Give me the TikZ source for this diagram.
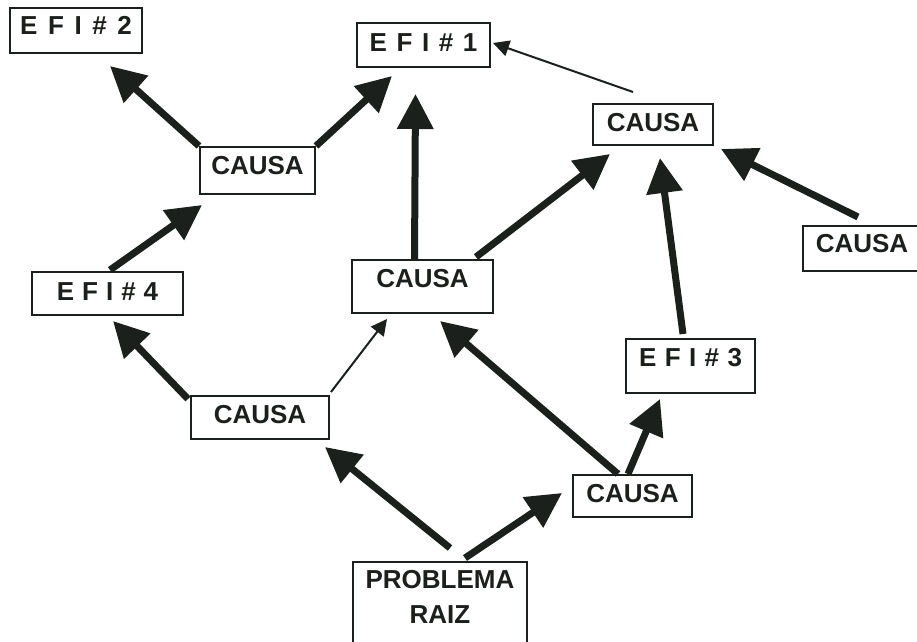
\documentclass[tikz,border=0pt]{standalone}
\usepackage{fontspec}
\setmainfont{Liberation Sans}
\usetikzlibrary{arrows.meta,calc}
\definecolor{ink}{RGB}{28,32,28}
% spaced-out "EFI #n" label; #1 = gap between characters, #2 = number
\newcommand\efilabel[2]{E\hspace{#1}F\hspace{#1}I\hspace{#1}\#\hspace{#1}#2}

\begin{document}
\begin{tikzpicture}[x=0.5pt,y=-0.5pt,
  labelfont/.style={font=\bfseries\fontsize{13pt}{17.5pt}\selectfont, text=ink},
  boxnode/.style={labelfont, draw=ink, line width=1pt, inner xsep=0pt, inner ysep=0pt, anchor=base},
  bigarrow/.style={draw=ink, line width=3.5pt, -{Triangle[length=17.5pt,width=17.5pt]}},
  thinarrow/.style={draw=ink, line width=1pt, -{Triangle[length=8pt,width=8pt]}},
]
\useasboundingbox[fill=white] (0,0) rectangle (917,642);

% boxes (placed at text centre / baseline)
\node[boxnode, minimum width=66pt,   text height=13.5pt, text depth=9pt]   (efi2) at (76,35)    {\efilabel{5.3pt}{2}};
\node[boxnode, minimum width=66.5pt, text height=14.5pt, text depth=7.5pt] (efi1) at (423.5,52) {\efilabel{4.8pt}{1}};
\node[boxnode, minimum width=57.5pt, text height=14pt,   text depth=9.5pt] (c1)   at (257.5,175) {CAUSA};
\node[boxnode, minimum width=60pt,   text height=14pt,   text depth=6.5pt] (c2)   at (653,132)  {CAUSA};
\node[boxnode, minimum width=59pt,   text height=13.5pt, text depth=9pt]   (c3)   at (862,253)  {CAUSA};
\node[boxnode, minimum width=75.5pt, text height=14pt,   text depth=7.5pt] (efi4) at (107.5,300) {\efilabel{4pt}{4}};
\node[boxnode, minimum width=70.5pt, text height=13.5pt, text depth=13pt]  (c4)   at (422.5,287) {CAUSA};
\node[boxnode, minimum width=69pt,   text height=13.5pt, text depth=8pt]   (c5)   at (260,423)  {CAUSA};
\node[boxnode, minimum width=59.5pt, text height=13.5pt, text depth=7.5pt] (c6)   at (632.5,502) {CAUSA};
\node[boxnode, minimum width=64.5pt, text height=13.5pt, text depth=13.5pt] (efi3) at (690.5,366) {\efilabel{4.2pt}{3}};

% root problem box, running off the lower edge
\node[draw=ink, line width=1pt, inner sep=0pt, minimum width=87pt, minimum height=60pt, anchor=north] (pr) at (440,561) {};
\node[labelfont, align=center, inner sep=0pt, anchor=north] (prlabel) at ($(pr.north)+(0,9)$) {PROBLEMA\\RAIZ};

% connectors
\draw[bigarrow]  (c1.north west) -- ($(efi2.south)+(34,12)$);
\draw[bigarrow]  (c1.north east) -- ($(efi1.south west)+(36,8)$);
\draw[bigarrow]  ($(c4.north)+(-8,0)$) -- ($(efi1.south)+(-8,26)$);
\draw[thinarrow] ($(c2.north)+(-20,-11)$) -- ($(efi1.east)+(2,-2)$);
\draw[bigarrow]  ($(c4.north east)+(-18,-2)$) -- ($(c2.south west)+(18,8)$);
\draw[bigarrow]  ($(efi3.north)+(-7.5,-4)$) -- ($(c2.south)+(7,12)$);
\draw[bigarrow]  ($(c3.north)+(-4,-8)$) -- ($(c2.south east)+(7,3)$);
\draw[bigarrow]  ($(efi4.north)+(2.5,-1)$) -- ($(c1.south west)+(3,10)$);
\draw[bigarrow]  ($(c5.north west)+(-2,4)$) -- ($(efi4.south)+(5.5,5)$);
\draw[thinarrow] ($(c5.north east)+(1,-3)$) -- ($(c4.south west)+(36,5)$);
\draw[bigarrow]  ($(c6.north)+(-14.5,0)$) -- ($(c4.south)+(17.5,7)$);
\draw[bigarrow]  ($(c6.north)+(-4.5,0)$) -- ($(efi3.south)+(-30.5,5)$);
\draw[bigarrow]  ($(pr.north)+(10,-13)$) -- ($(c5.south east)+(-5,7)$);
\draw[bigarrow]  ($(pr.north)+(25,-3)$) -- ($(c6.west)+(-10,-3)$);
\end{tikzpicture}
\end{document}
